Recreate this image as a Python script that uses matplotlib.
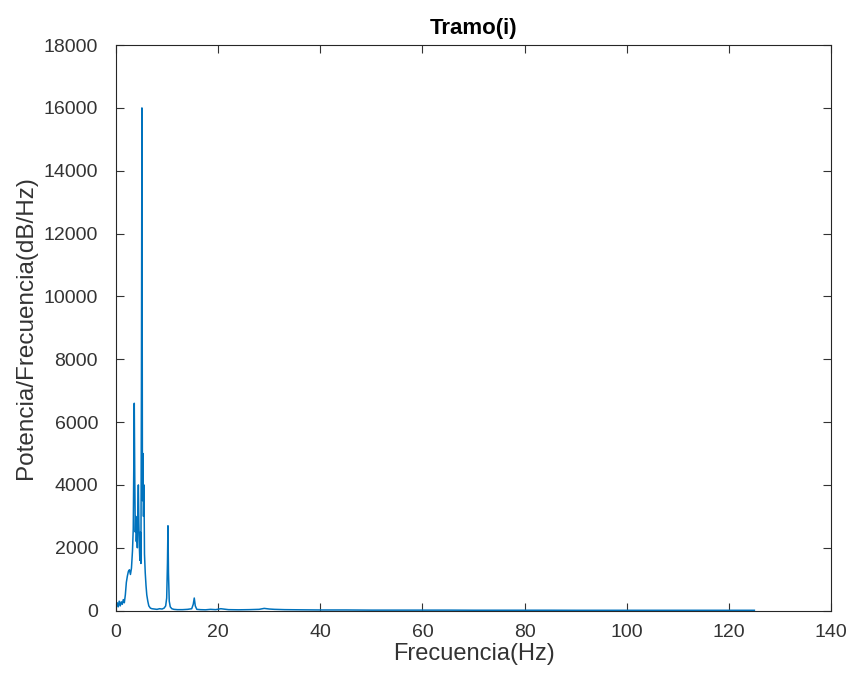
import numpy as np
import matplotlib.pyplot as plt

plt.rcParams['font.family'] = ['Liberation Sans', 'DejaVu Sans']

# frecuencia (Hz) y densidad espectral
freq = [0.0, 0.2, 0.4, 0.6, 0.8, 1.0, 1.2, 1.4, 1.6, 1.8, 2.0, 2.2, 2.4,
        2.6, 2.8, 3.0, 3.2, 3.35, 3.45, 3.55, 3.65, 3.75, 3.85, 3.95, 4.05,
        4.15, 4.25, 4.35, 4.45, 4.55, 4.65, 4.75, 4.85, 4.95, 5.05, 5.15,
        5.25, 5.35, 5.45, 5.55, 5.7, 5.85, 6.0, 6.2, 6.4, 6.7, 7.0, 7.5,
        8.0, 8.5, 9.0, 9.4, 9.7, 9.9, 10.05, 10.15, 10.25, 10.4, 10.6,
        10.9, 11.3, 12.0, 13.0, 14.0, 14.8, 15.1, 15.3, 15.5, 15.8, 16.5,
        17.5, 18.5, 19.5, 20.5, 22.0, 24.0, 26.0, 28.0, 29.0, 30.0, 31.0,
        33.0, 36.0, 40.0, 45.0, 50.0, 55.0, 60.0, 65.0, 70.0, 75.0, 80.0,
        85.0, 90.0, 95.0, 100.0, 105.0, 110.0, 115.0, 120.0, 125.0]
psd = [80, 250, 120, 300, 150, 280, 200, 350, 250, 500, 900, 1100, 1250,
       1300, 1150, 1350, 1900, 2600, 4500, 6600, 4200, 2500, 3000, 2200,
       2700, 2000, 3200, 4000, 2800, 2000, 1600, 2500, 1500, 7000, 16000,
       3500, 5000, 3000, 4000, 1800, 1200, 800, 500, 300, 150, 80, 60, 50,
       40, 60, 50, 80, 150, 400, 1500, 2700, 1200, 300, 120, 60, 40, 30, 30,
       40, 60, 200, 400, 150, 40, 30, 25, 40, 30, 60, 30, 25, 30, 40, 70,
       50, 40, 30, 25, 20, 20, 15, 15, 15, 15, 12, 12, 12, 12, 10, 10, 10,
       10, 10, 10, 10, 10]

fig = plt.figure(figsize=(8.54, 6.83), dpi=100)
ax = fig.add_axes([0.136, 0.106, 0.837, 0.828])
ax.plot(freq, psd, color='#0072BD', linewidth=1.1)

ax.set_xlim(0, 140)
ax.set_ylim(0, 18000)
ax.set_xticks(np.arange(0, 141, 20))
ax.set_yticks(np.arange(0, 18001, 2000))
ax.tick_params(direction='in', top=True, right=True, labelsize=14,
               colors='#333333', length=6, width=0.8)
ax.tick_params(axis='x', pad=10)
ax.tick_params(axis='y', pad=13)
for s in ax.spines.values():
    s.set_color('#262626')
    s.set_linewidth(0.8)

ax.set_title('Tramo(i)', fontsize=16, fontweight='bold', pad=8)
ax.set_xlabel('Frecuencia(Hz)', fontsize=17, color='#333333', labelpad=1)
ax.set_ylabel('Potencia/Frecuencia(dB/Hz)', fontsize=17.5, color='#333333',
              labelpad=5)

fig.savefig('out.png', dpi=100)
